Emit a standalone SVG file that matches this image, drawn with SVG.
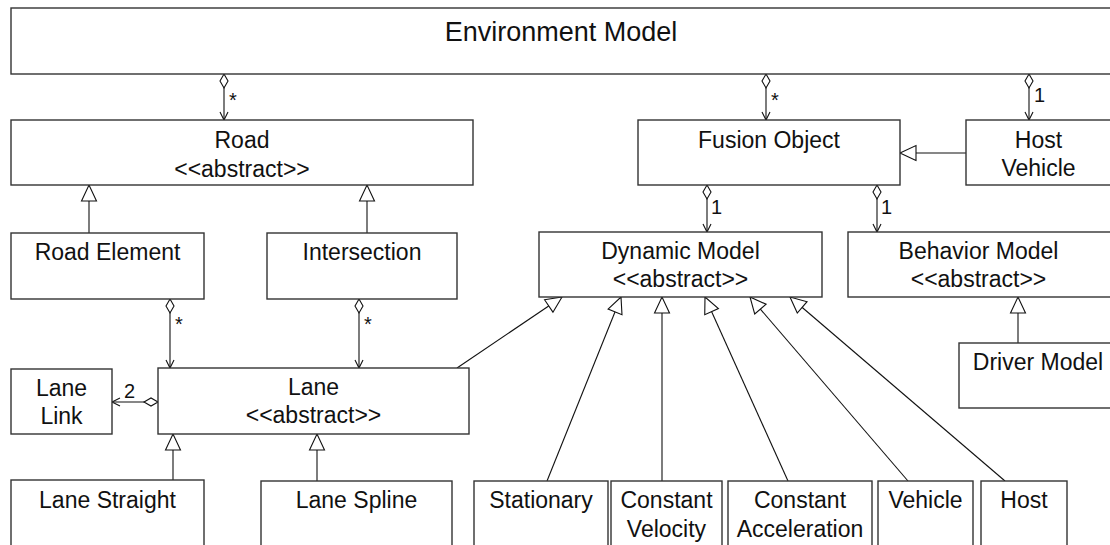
<svg xmlns="http://www.w3.org/2000/svg" width="1110" height="545" viewBox="0 0 1110 545">
  <style>
    .box { fill: #ffffff; stroke: #333333; stroke-width: 1.4; }
    .name { font-family: "Liberation Sans", Arial, sans-serif; font-size: 23px; fill: #111111; text-anchor: middle; }
    .title { font-size: 27px; }
    .mult { font-family: "Liberation Sans", Arial, sans-serif; font-size: 20px; fill: #111111; }
    .edge { fill: none; stroke: #111111; stroke-width: 1.1; }
  </style>
  <defs>
    <!-- navigable end: open arrow -->
    <marker id="open" markerUnits="userSpaceOnUse" markerWidth="10" markerHeight="10" refX="8" refY="4" orient="auto" overflow="visible">
      <path d="M0,0 L8,4 L0,8" fill="none" stroke="#111111" stroke-width="1.1"/>
    </marker>
    <!-- aggregation end: hollow diamond -->
    <marker id="agg" markerUnits="userSpaceOnUse" markerWidth="16" markerHeight="10" refX="0" refY="4" orient="auto" overflow="visible">
      <path d="M0,4 L7,0 L14,4 L7,8 Z" fill="#ffffff" stroke="#111111" stroke-width="1.1"/>
    </marker>
    <!-- generalization end: hollow triangle -->
    <marker id="gen" markerUnits="userSpaceOnUse" markerWidth="18" markerHeight="16" refX="16" refY="7.5" orient="auto" overflow="visible">
      <path d="M0,0 L16,7.5 L0,15 Z" fill="#ffffff" stroke="#111111" stroke-width="1.1"/>
    </marker>
  </defs>

  <rect x="0" y="0" width="1110" height="545" fill="#ffffff"/>

  <!-- connectors -->
  <g id="connectors">
    <!-- aggregations with navigable end -->
    <line class="edge" x1="224" y1="74" x2="224" y2="120" marker-start="url(#agg)" marker-end="url(#open)"/>
    <line class="edge" x1="766" y1="74" x2="766" y2="120" marker-start="url(#agg)" marker-end="url(#open)"/>
    <line class="edge" x1="1029" y1="74" x2="1029" y2="120" marker-start="url(#agg)" marker-end="url(#open)"/>
    <line class="edge" x1="707" y1="185" x2="707" y2="232" marker-start="url(#agg)" marker-end="url(#open)"/>
    <line class="edge" x1="877" y1="185" x2="877" y2="232" marker-start="url(#agg)" marker-end="url(#open)"/>
    <line class="edge" x1="170" y1="299" x2="170" y2="368" marker-start="url(#agg)" marker-end="url(#open)"/>
    <line class="edge" x1="359" y1="299" x2="359" y2="368" marker-start="url(#agg)" marker-end="url(#open)"/>
    <line class="edge" x1="158" y1="402" x2="112" y2="402" marker-start="url(#agg)" marker-end="url(#open)"/>

    <!-- multiplicities -->
    <text class="mult" x="229" y="107">*</text>
    <text class="mult" x="771" y="107">*</text>
    <text class="mult" x="1034" y="102">1</text>
    <text class="mult" x="711" y="214">1</text>
    <text class="mult" x="881" y="214">1</text>
    <text class="mult" x="175" y="331">*</text>
    <text class="mult" x="364" y="331">*</text>
    <text class="mult" x="124" y="398">2</text>

    <!-- generalizations -->
    <line class="edge" x1="966" y1="153" x2="900" y2="153" marker-end="url(#gen)"/>
    <line class="edge" x1="89" y1="233" x2="89" y2="185" marker-end="url(#gen)"/>
    <line class="edge" x1="367" y1="233" x2="367" y2="185" marker-end="url(#gen)"/>
    <line class="edge" x1="173" y1="480" x2="173" y2="434" marker-end="url(#gen)"/>
    <line class="edge" x1="317" y1="481" x2="317" y2="434" marker-end="url(#gen)"/>
    <line class="edge" x1="1018" y1="343" x2="1018" y2="297" marker-end="url(#gen)"/>
    <line class="edge" x1="457" y1="368" x2="562" y2="297" marker-end="url(#gen)"/>
    <line class="edge" x1="547" y1="481" x2="621" y2="297" marker-end="url(#gen)"/>
    <line class="edge" x1="662" y1="481" x2="662" y2="297" marker-end="url(#gen)"/>
    <line class="edge" x1="788" y1="481" x2="705" y2="297" marker-end="url(#gen)"/>
    <line class="edge" x1="908" y1="481" x2="750" y2="297" marker-end="url(#gen)"/>
    <line class="edge" x1="1005" y1="481" x2="790" y2="297" marker-end="url(#gen)"/>
  </g>

  <!-- classes -->
  <g id="environment-model">
    <rect class="box" x="11" y="8" width="1101" height="66"/>
    <text class="name title" x="561" y="41">Environment Model</text>
  </g>
  <g id="road">
    <rect class="box" x="11" y="120" width="462" height="65"/>
    <text class="name" x="242" y="148">Road</text>
    <text class="name" x="242" y="177">&lt;&lt;abstract&gt;&gt;</text>
  </g>
  <g id="fusion-object">
    <rect class="box" x="638" y="120" width="262" height="65"/>
    <text class="name" x="769" y="148">Fusion Object</text>
  </g>
  <g id="host-vehicle">
    <rect class="box" x="966" y="120" width="146" height="65"/>
    <text class="name" x="1038.5" y="148">Host</text>
    <text class="name" x="1038.5" y="176">Vehicle</text>
  </g>
  <g id="road-element">
    <rect class="box" x="11" y="233" width="193" height="66"/>
    <text class="name" x="107.5" y="260">Road Element</text>
  </g>
  <g id="intersection">
    <rect class="box" x="267" y="233" width="190" height="66"/>
    <text class="name" x="362" y="260">Intersection</text>
  </g>
  <g id="dynamic-model">
    <rect class="box" x="539" y="232" width="283" height="65"/>
    <text class="name" x="680.5" y="259">Dynamic Model</text>
    <text class="name" x="680.5" y="287">&lt;&lt;abstract&gt;&gt;</text>
  </g>
  <g id="behavior-model">
    <rect class="box" x="848" y="232" width="264" height="65"/>
    <text class="name" x="978.5" y="259">Behavior Model</text>
    <text class="name" x="978.5" y="287">&lt;&lt;abstract&gt;&gt;</text>
  </g>
  <g id="driver-model">
    <rect class="box" x="959" y="343" width="160" height="65"/>
    <text class="name" x="1038" y="370">Driver Model</text>
  </g>
  <g id="lane-link">
    <rect class="box" x="11" y="369" width="101" height="65"/>
    <text class="name" x="61.5" y="396">Lane</text>
    <text class="name" x="61.5" y="424">Link</text>
  </g>
  <g id="lane">
    <rect class="box" x="158" y="368" width="311" height="66"/>
    <text class="name" x="313.5" y="395">Lane</text>
    <text class="name" x="313.5" y="423">&lt;&lt;abstract&gt;&gt;</text>
  </g>
  <g id="lane-straight">
    <rect class="box" x="11" y="480" width="193" height="80"/>
    <text class="name" x="107.5" y="508">Lane Straight</text>
  </g>
  <g id="lane-spline">
    <rect class="box" x="261" y="481" width="191" height="80"/>
    <text class="name" x="356.5" y="508">Lane Spline</text>
  </g>
  <g id="stationary">
    <rect class="box" x="474" y="481" width="134" height="80"/>
    <text class="name" x="541" y="508">Stationary</text>
  </g>
  <g id="constant-velocity">
    <rect class="box" x="611" y="481" width="111" height="80"/>
    <text class="name" x="666.5" y="508">Constant</text>
    <text class="name" x="666.5" y="537">Velocity</text>
  </g>
  <g id="constant-acceleration">
    <rect class="box" x="728" y="481" width="144" height="80"/>
    <text class="name" x="800" y="508">Constant</text>
    <text class="name" x="800" y="537">Acceleration</text>
  </g>
  <g id="vehicle">
    <rect class="box" x="878" y="481" width="95" height="80"/>
    <text class="name" x="925.5" y="508">Vehicle</text>
  </g>
  <g id="host">
    <rect class="box" x="981" y="481" width="86" height="80"/>
    <text class="name" x="1024" y="508">Host</text>
  </g>
</svg>
